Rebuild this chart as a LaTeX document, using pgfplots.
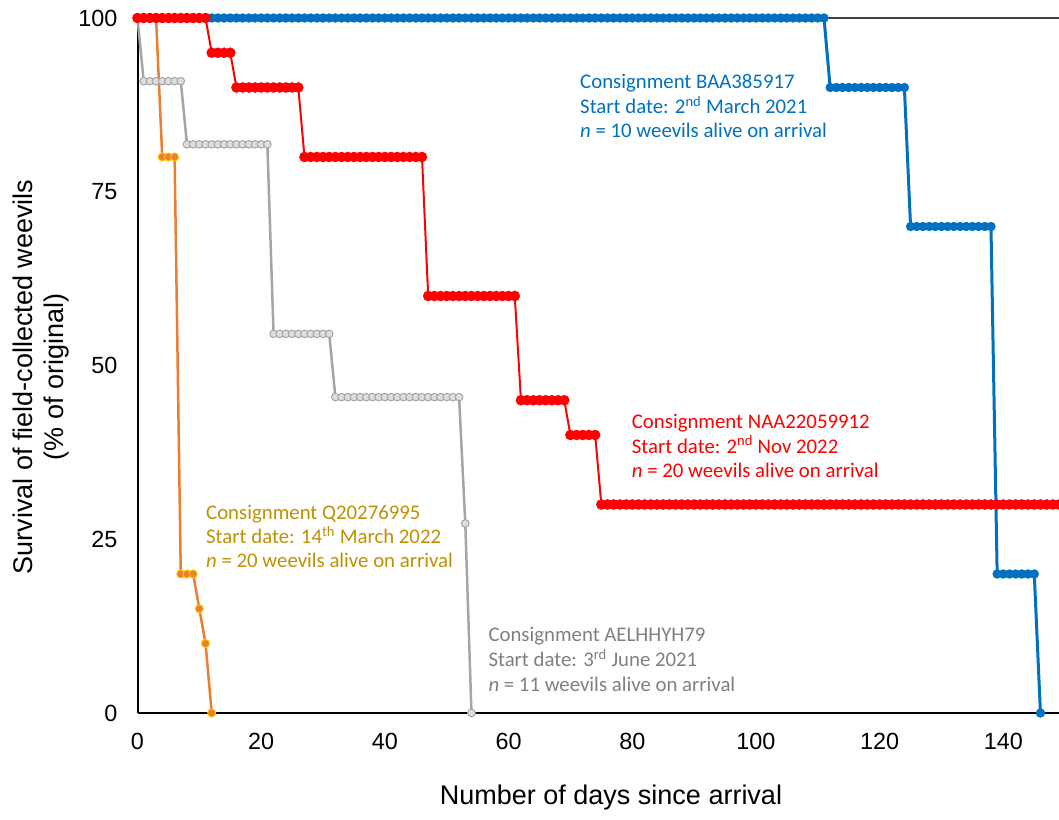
\documentclass[border=0pt]{standalone}
\usepackage{pgfplots}
\pgfplotsset{compat=1.18}
\usepackage{fontspec}
\setmainfont{Liberation Sans}
\newfontfamily\calibri{Carlito}
\definecolor{cblue}{HTML}{0070C0}
\definecolor{cred}{HTML}{FF0000}
\definecolor{cgrayline}{HTML}{A5A5A5}
\definecolor{cgrayfill}{HTML}{DEDEDE}
\definecolor{corange}{HTML}{ED7D31}
\definecolor{cyellow}{HTML}{FFC000}
\definecolor{cgold}{HTML}{BF9000}
\definecolor{cgraytext}{HTML}{7F7F7F}
\begin{document}
\begin{tikzpicture}
\useasboundingbox (-137.5pt,-106pt) rectangle (921.5pt,713pt);
\begin{axis}[
  at={(0pt,0pt)}, anchor=south west,
  scale only axis, width=921.5pt, height=695pt,
  xmin=0, xmax=149, ymin=0, ymax=100,
  axis line style={draw=none},
  major tick length=0pt,
  xtick={0,20,40,60,80,100,120,140},
  ytick={0,25,50,75,100},
  /pgf/number format/assume math mode=true,
  ticklabel style={font=\fontsize{23.4}{28}\selectfont},
  yticklabel style={inner sep=0pt, xshift=-20pt},
  xticklabel style={inner sep=0pt, yshift=-20pt},
  clip=false,
]
\draw[black!75, line width=1.5pt] (rel axis cs:0,1) -- (rel axis cs:1,1);
\draw[black, line width=2pt] (rel axis cs:0,0) -- (rel axis cs:1,0);
\draw[black, line width=2pt] (rel axis cs:0,0) -- (rel axis cs:0,1);
% Gray series (n = 11)
\addplot[cgrayline, line width=2.5pt, mark=*, mark size=3.8pt,
  mark options={fill=cgrayfill, draw=cgrayline, line width=1pt}] coordinates {
(0,100)
(1,90.91)(2,90.91)(3,90.91)(4,90.91)(5,90.91)(6,90.91)(7,90.91)
(8,81.82)(9,81.82)(10,81.82)(11,81.82)(12,81.82)(13,81.82)(14,81.82)(15,81.82)(16,81.82)(17,81.82)(18,81.82)(19,81.82)(20,81.82)(21,81.82)
(22,54.55)(23,54.55)(24,54.55)(25,54.55)(26,54.55)(27,54.55)(28,54.55)(29,54.55)(30,54.55)(31,54.55)
(32,45.45)(33,45.45)(34,45.45)(35,45.45)(36,45.45)(37,45.45)(38,45.45)(39,45.45)(40,45.45)(41,45.45)(42,45.45)(43,45.45)(44,45.45)(45,45.45)(46,45.45)(47,45.45)(48,45.45)(49,45.45)(50,45.45)(51,45.45)(52,45.45)
(53,27.27)(54,0)
};
% Orange series (n = 20)
\addplot[corange, line width=2.5pt, mark=*, mark size=4pt,
  mark options={fill=corange, draw=cyellow, line width=1pt}] coordinates {
(0,100)(1,100)(2,100)(3,100)(4,80)(5,80)(6,80)(7,20)(8,20)(9,20)(10,15)(11,10)(12,0)
};
% Blue series (n = 10)
\addplot[cblue, line width=3pt, mark=*, mark size=4.4pt,
  mark options={fill=cblue, draw=cblue, line width=0.5pt}] coordinates {
(0,100)(1,100)(2,100)(3,100)(4,100)(5,100)(6,100)(7,100)(8,100)(9,100)
(10,100)(11,100)(12,100)(13,100)(14,100)(15,100)(16,100)(17,100)(18,100)(19,100)
(20,100)(21,100)(22,100)(23,100)(24,100)(25,100)(26,100)(27,100)(28,100)(29,100)
(30,100)(31,100)(32,100)(33,100)(34,100)(35,100)(36,100)(37,100)(38,100)(39,100)
(40,100)(41,100)(42,100)(43,100)(44,100)(45,100)(46,100)(47,100)(48,100)(49,100)
(50,100)(51,100)(52,100)(53,100)(54,100)(55,100)(56,100)(57,100)(58,100)(59,100)
(60,100)(61,100)(62,100)(63,100)(64,100)(65,100)(66,100)(67,100)(68,100)(69,100)
(70,100)(71,100)(72,100)(73,100)(74,100)(75,100)(76,100)(77,100)(78,100)(79,100)
(80,100)(81,100)(82,100)(83,100)(84,100)(85,100)(86,100)(87,100)(88,100)(89,100)
(90,100)(91,100)(92,100)(93,100)(94,100)(95,100)(96,100)(97,100)(98,100)(99,100)
(100,100)(101,100)(102,100)(103,100)(104,100)(105,100)(106,100)(107,100)(108,100)(109,100)
(110,100)(111,100)
(112,90)(113,90)(114,90)(115,90)(116,90)(117,90)(118,90)(119,90)(120,90)(121,90)(122,90)(123,90)(124,90)
(125,70)(126,70)(127,70)(128,70)(129,70)(130,70)(131,70)(132,70)(133,70)(134,70)(135,70)(136,70)(137,70)(138,70)
(139,20)(140,20)(141,20)(142,20)(143,20)(144,20)(145,20)
(146,0)
};
% Red series (n = 20)
\addplot[cred, line width=2pt, mark=*, mark size=5pt,
  mark options={fill=cred, draw=cred, line width=0.5pt}] coordinates {
(0,100)(1,100)(2,100)(3,100)(4,100)(5,100)(6,100)(7,100)(8,100)(9,100)(10,100)(11,100)
(12,95)(13,95)(14,95)(15,95)
(16,90)(17,90)(18,90)(19,90)(20,90)(21,90)(22,90)(23,90)(24,90)(25,90)(26,90)
(27,80)(28,80)(29,80)(30,80)(31,80)(32,80)(33,80)(34,80)(35,80)(36,80)(37,80)(38,80)(39,80)(40,80)(41,80)(42,80)(43,80)(44,80)(45,80)(46,80)
(47,60)(48,60)(49,60)(50,60)(51,60)(52,60)(53,60)(54,60)(55,60)(56,60)(57,60)(58,60)(59,60)(60,60)(61,60)
(62,45)(63,45)(64,45)(65,45)(66,45)(67,45)(68,45)(69,45)
(70,40)(71,40)(72,40)(73,40)(74,40)
(75,30)(76,30)(77,30)(78,30)(79,30)(80,30)(81,30)(82,30)(83,30)(84,30)
(85,30)(86,30)(87,30)(88,30)(89,30)(90,30)(91,30)(92,30)(93,30)(94,30)
(95,30)(96,30)(97,30)(98,30)(99,30)(100,30)(101,30)(102,30)(103,30)(104,30)
(105,30)(106,30)(107,30)(108,30)(109,30)(110,30)(111,30)(112,30)(113,30)(114,30)
(115,30)(116,30)(117,30)(118,30)(119,30)(120,30)(121,30)(122,30)(123,30)(124,30)
(125,30)(126,30)(127,30)(128,30)(129,30)(130,30)(131,30)(132,30)(133,30)(134,30)
(135,30)(136,30)(137,30)(138,30)(139,30)(140,30)(141,30)(142,30)(143,30)(144,30)
(145,30)(146,30)(147,30)(148,30)(149,30)
};
\end{axis}
% Axis titles
\node[font=\fontsize{27}{31}\selectfont, anchor=base, inner sep=0pt] at (473.5pt,-91pt) {Number of days since arrival};
\node[font=\fontsize{27}{31}\selectfont, rotate=90, align=center, inner sep=0pt, anchor=center] at (-96.5pt,336pt) {Survival of field-collected weevils\\(\% of original)};
% Annotations
\begin{scope}[every node/.style={anchor=base west, inner sep=0pt, font=\calibri\fontsize{20.8}{25}\selectfont}]
\node[text=cblue] at (442.5pt,624.7pt) {Consignment BAA385917};
\node[text=cblue] at (442.5pt,599pt) {Start date: 2\textsuperscript{nd} March 2021};
\node[text=cblue] at (442.5pt,575.7pt) {\textit{n} = 10 weevils alive on arrival};
\node[text=cred] at (494.2pt,284.7pt) {Consignment NAA22059912};
\node[text=cred] at (494.2pt,259.7pt) {Start date: 2\textsuperscript{nd} Nov 2022};
\node[text=cred] at (494.2pt,235.7pt) {\textit{n} = 20 weevils alive on arrival};
\node[text=cgold] at (68.5pt,193pt) {Consignment Q20276995};
\node[text=cgold] at (68.5pt,169pt) {Start date: 14\textsuperscript{th} March 2022};
\node[text=cgold] at (68.5pt,145pt) {\textit{n} = 20 weevils alive on arrival};
\node[text=cgraytext] at (350.8pt,71.3pt) {Consignment AELHHYH79};
\node[text=cgraytext] at (350.8pt,46.3pt) {Start date: 3\textsuperscript{rd} June 2021};
\node[text=cgraytext] at (350.8pt,21.3pt) {\textit{n} = 11 weevils alive on arrival};
\end{scope}
\end{tikzpicture}
\end{document}
